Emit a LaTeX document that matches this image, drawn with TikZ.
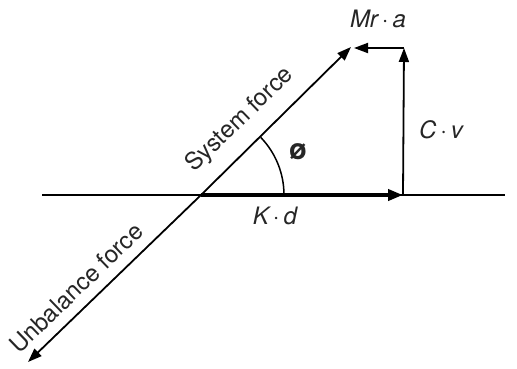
\documentclass[tikz,border=0pt]{standalone}
\usepackage{fontspec}
\setmainfont{TeX Gyre Heros}
\usetikzlibrary{arrows.meta}
\begin{document}
\begin{tikzpicture}[x=1pt,y=-1pt,
  vec/.style={line width=1.8pt, -{Triangle[length=14pt,width=10pt]}},
  lbl/.style={font=\fontsize{24}{28}\selectfont, inner sep=0pt, text=black!85},
  ilbl/.style={lbl, font=\fontsize{24}{28}\selectfont\itshape}]
\useasboundingbox (0,0) rectangle (517,368);
\coordinate (L) at (42,195);
\coordinate (R) at (505,195);
\coordinate (O) at (201,195);
\coordinate (K) at (403,195);
\coordinate (S) at (351,47);
\coordinate (U) at (28,362);
\coordinate (T) at (404,48);
\coordinate (M) at (354,48);
\draw[line width=1.8pt] (L) -- (R);
\draw[vec, line width=3.8pt, -{Triangle[length=15pt,width=11pt]}] (O) -- (K);
\draw[vec] (O) -- (S);
\draw[vec] (O) -- (U);
\draw[vec] (K) -- (T);
\draw[vec] (T) -- (M);
\draw[line width=1.5pt] ([xshift=83pt]O) arc[start angle=0, end angle=44, radius=83pt];
\node[ilbl] (mra) at (378,19) {Mr\,·\,a};
\node[ilbl] (cv) at (441,130) {C\,·\,v};
\node[ilbl] (kd) at (275,216) {K\,·\,d};
\node[lbl, font=\fontsize{29}{32}\selectfont\bfseries] (phi) at (298,152) {ø};
\node[lbl, rotate=44] (sys) at (240,120) {System force};
\node[lbl, rotate=44] (unb) at (76,288) {Unbalance force};
\end{tikzpicture}
\end{document}
